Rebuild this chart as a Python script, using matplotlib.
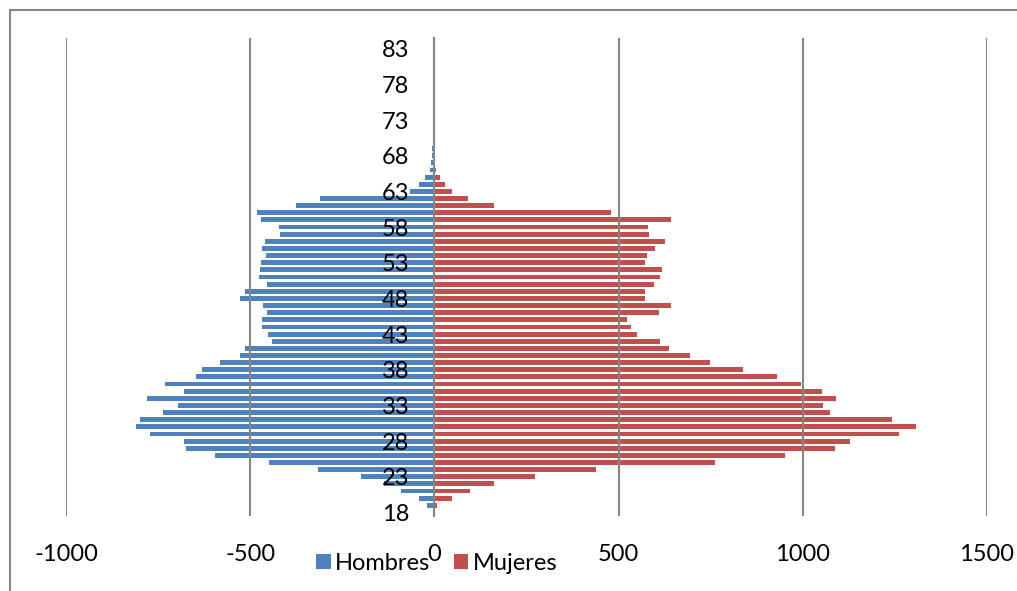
import matplotlib.pyplot as plt
from matplotlib.patches import Rectangle

plt.rcParams['font.family'] = ['Lato', 'DejaVu Sans']

# edades 18..84
edades = list(range(18, 85))

hombres = [0, -19, -42, -90, -137, -199, -315, -450, -595, -673,
           -679, -771, -811, -798, -737, -695, -779, -680, -730, -646,
           -631, -581, -527, -513, -440, -453, -468, -468, -454, -466,
           -528, -513, -454, -477, -473, -472, -456, -468, -459, -418,
           -423, -470, -481, -377, -311, -67, -41, -26, -13, -9,
           -6, -6, -3, -4, -4, -2, 0, 0, 0, 0,
           0, 0, 0, 0, 0, 0, 0]

mujeres = [0, 7, 48, 96, 163, 272, 439, 762, 952, 1088,
           1127, 1261, 1306, 1242, 1075, 1056, 1090, 1052, 996, 929,
           837, 749, 695, 637, 612, 550, 534, 523, 610, 643,
           573, 573, 597, 613, 619, 571, 578, 600, 627, 583,
           580, 642, 480, 162, 91, 48, 30, 16, 3, 2,
           1, 1, 0, 0, 0, 0, 0, 0, 0, 0,
           0, 0, 0, 0, 0, 0, 0]

etiquetas = list(range(18, 85, 5))
xticks = [-1000, -500, 0, 500, 1000, 1500]

gris = '#868686'
fs = 17

fig = plt.figure(figsize=(10.17, 5.91), dpi=100)
ax = fig.add_axes([66 / 1017, 1 - 516 / 591, (987 - 66) / 1017, (516 - 38) / 591])

ax.barh(edades, hombres, height=0.68, color='#4F81BD', label='Hombres')
ax.barh(edades, mujeres, height=0.68, color='#C0504D', label='Mujeres')

for s in ['top', 'right', 'bottom']:
    ax.spines[s].set_visible(False)
ax.spines['left'].set_position(('data', 0))
ax.spines['left'].set_color(gris)
ax.spines['left'].set_linewidth(1.5)
ax.spines['left'].set_zorder(3)

ax.set_xlim(-1000, 1500)
ax.set_ylim(17.5, 84.5)
ax.set_xticks(xticks)
ax.set_xticklabels([str(v) for v in xticks])
ax.set_yticks(etiquetas)
ax.set_yticklabels([str(v) for v in etiquetas])

# rejilla y etiquetas por encima de las barras
ax.set_axisbelow(False)
ax.xaxis.grid(True, color=gris, linewidth=1.5)

ax.tick_params(axis='y', length=0, pad=18, labelsize=fs)
ax.tick_params(axis='x', length=0, pad=20, labelsize=fs)

ax.legend(loc='center', bbox_to_anchor=(437 / 1017, 1 - 563 / 591),
          bbox_transform=fig.transFigure, ncol=2, frameon=False, fontsize=fs,
          handlelength=0.6, handleheight=0.6, handletextpad=0.2,
          columnspacing=1.0, borderpad=0)

fig.patches.append(Rectangle((10 / 1017, -0.1), 1.2, 1.1 - 10 / 591,
                             transform=fig.transFigure, fill=False,
                             edgecolor=gris, linewidth=1.5))

fig.savefig('out.png', dpi=100)
